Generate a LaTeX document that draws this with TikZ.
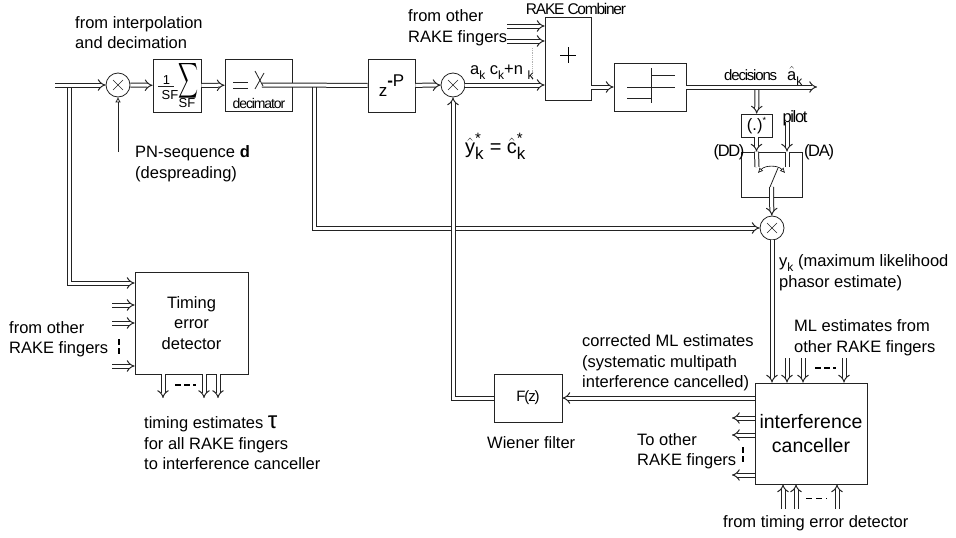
\documentclass[tikz,border=0pt]{standalone}
\usepackage{fontspec}
\setmainfont{Liberation Sans}
\newfontfamily\tightfont[LetterSpace=-8]{Liberation Sans}
\usepackage{xcolor}
\definecolor{wireblack}{RGB}{35, 35, 35}
\usetikzlibrary{arrows.meta, calc}
\newcommand{\subk}{\raisebox{-.32em}{\fontsize{12}{12}\selectfont k}}
\newcommand{\hatstar}[1]{$\hat{\mbox{#1}}^{\mbox{\fontsize{15}{15}\selectfont *}}_{\mbox{\fontsize{17}{17}\selectfont k}}$}
\tikzset{
  block/.style={draw=wireblack, line width=.8pt, inner sep=0pt, align=center, font=\fontsize{16.5}{20.5}\selectfont},
  mixer/.style={circle, draw=wireblack, line width=.8pt, minimum size=24pt, inner sep=0pt,
    path picture={
      \draw[line width=.5pt] ([shift={(-5pt,-5pt)}]path picture bounding box.center) -- ([shift={(5pt,5pt)}]path picture bounding box.center);
      \draw[line width=.5pt] ([shift={(-5pt,5pt)}]path picture bounding box.center) -- ([shift={(5pt,-5pt)}]path picture bounding box.center);
    }},
  dplain/.style={double, double distance=3pt, line width=1pt, draw=wireblack},
  dline/.style={dplain, -{Implies[length=7pt, width=12pt]}},
  single/.style={line width=.8pt, draw=wireblack},
  gapline/.style={line width=1.3pt, black, dash pattern=on 6pt off 3pt},
  txt/.style={inner sep=0pt, anchor=west, align=left, font=\fontsize{16.5}{20.5}\selectfont},
  tighttxt/.style={inner sep=0pt, font=\tightfont\fontsize{15}{17}\selectfont}
}
\begin{document}
\begin{tikzpicture}[x=1pt, y=-1pt]
  \useasboundingbox (0,0) rectangle (956,538);

  % forward path blocks
  \node[mixer] (mix1) at (118,85) {};
  \node[block, minimum width=48pt, minimum height=53pt] (sf) at (177,85.5) {};
  \node[block, minimum width=67pt, minimum height=52pt] (deci) at (258.5,85) {};
  \node[block, minimum width=47pt, minimum height=53pt, font=\fontsize{17}{20}\selectfont] (delay) at (391.5,85.5) {z\raisebox{.55em}{\textbf{-}P}};
  \node[mixer] (mix2) at (453,85) {};
  \node[block, minimum width=46pt, minimum height=83pt] (comb) at (568,58.5) {};
  \node[block, minimum width=72pt, minimum height=48pt] (slicer) at (650,87) {};

  % feedback and estimator blocks
  \node[block, minimum width=31pt, minimum height=23pt] (conj) at (756.5,125.5) {(.)\raisebox{.4em}{\fontsize{9}{9}\selectfont *}};
  \node[block, minimum width=61pt, minimum height=45pt] (sw) at (771.5,174.5) {};
  \node[mixer] (mix3) at (772,228) {};
  \node[block, minimum width=112pt, minimum height=101pt, font=\fontsize{19.5}{23.5}\selectfont] (canc) at (811,433.5) {interference\\canceller};
  \node[block, minimum width=68pt, minimum height=48pt, font=\tightfont\fontsize{15}{17}\selectfont] (fz) at (528,398) {F(z)};
  \node[block, minimum width=113pt, minimum height=102pt] (ted) at (191.5,323) {Timing\\error\\detector};

  % free ends
  \coordinate (input) at (55,85);
  \coordinate (tedtap) at (69.5,85);
  \coordinate (samp) at (262,85);
  \coordinate (esttap) at (314.5,85);
  \coordinate (pn) at (118,152);
  \coordinate (fing1) at (507,26);
  \coordinate (fing2) at (507,41);
  \coordinate (decout) at (817,87);
  \coordinate (dectap) at (757,87);
  \coordinate (pilot) at (787,122);
  \coordinate (swdd) at (757,167);
  \coordinate (swda) at (787,167);
  \coordinate (swout) at (771.5,187);

  % double connectors, branches first so that the main line stays on top
  \draw[dline] (tedtap) |- (ted.west |- 0,283);
  \draw[dline] (esttap) |- (mix3);
  \draw[dline] (input) -- (mix1);
  \draw[dline] (mix1) -- (sf);
  \draw[dline] (sf) -- (deci);
  \draw[dplain] (samp) -- (delay);
  \draw[dline] (delay) -- (mix2);
  \draw[dline] (mix2) -- (mix2 -| comb.west);
  \draw[dline] (fing1) -- (fing1 -| comb.west);
  \draw[dline] (fing2) -- (fing2 -| comb.west);
  \draw[dline] (slicer.west -| comb.east) -- (slicer.west);
  \draw[dline] (dectap) -- (conj);
  \draw[dline] (slicer) -- (decout);
  \draw[dline] (conj) -- (conj |- sw.north);
  \draw[dline] (pilot) -- (pilot |- sw.north);
  \draw[dplain] (conj |- sw.north) -- (swdd);
  \draw[dplain] (pilot |- sw.north) -- (swda);
  \draw[dline] (swout) -- (mix3);
  \draw[dline] (mix3) -- (mix3 |- canc.north);
  \draw[dline] (canc.west |- fz) -- (fz);
  \draw[dline] (fz) -| (mix2);

  % pn input
  \draw[single, -{Triangle[open, length=5pt, width=5pt]}] (pn) -- (mix1);

  % timing detector ports
  \foreach \y in {305,323,366} {
    \coordinate (tedin\y) at (112,\y);
    \draw[dline] (tedin\y) -- (tedin\y -| ted.west);
  }
  \foreach \x in {163,204,218} {
    \coordinate (tedout\x) at (\x,398);
    \draw[dline] (tedout\x |- ted.south) -- (tedout\x);
  }
  \draw[gapline] (119,339) -- (119,356);
  \draw[gapline] (175,385) -- (196,385);

  % canceller ports
  \foreach \x in {787,803,844} {
    \coordinate (mlin\x) at (\x,358);
    \draw[dline] (mlin\x) -- (mlin\x |- canc.north);
  }
  \foreach \y in {418,435,475} {
    \coordinate (cancout\y) at (732,\y);
    \draw[dline] (cancout\y -| canc.west) -- (cancout\y);
  }
  \foreach \x in {783,796,837} {
    \coordinate (cancin\x) at (\x,509);
    \draw[dline] (cancin\x) -- (cancin\x |- canc.south);
  }
  \draw[gapline] (815,368) -- (836,368);
  \draw[gapline] (743,447) -- (743,464);
  \draw[line width=.9pt, black, dash pattern=on 6pt off 4pt] (806,498) -- (827,498);

  % block insides
  \draw[single] (158,86) -- (174,86);
  \node[inner sep=0pt, font=\fontsize{13}{13}\selectfont] (one) at (166.5,80) {1};
  \node[inner sep=0pt, font=\fontsize{13}{13}\selectfont] (sfa) at (170,95) {SF};
  \node[inner sep=0pt, font=\fontsize{13}{13}\selectfont] (sfb) at (187,103) {SF};
  \node[inner sep=0pt] (sumsign) at (188,81) {\resizebox{20pt}{26pt}{$\displaystyle\sum$}};
  \draw[single] (233,82) -- (248,82);
  \draw[single] (233,88) -- (248,88);
  \draw[single] (255,89) -- (264,73);
  \draw[single] (255,71) -- (263,86);
  \node[tighttxt, font=\tightfont\fontsize{14}{16}\selectfont] (decilabel) at (259,103) {decimator};
  \draw[line width=.5pt] (560,55) -- (576,55);
  \draw[line width=.5pt] (568,47) -- (568,63);
  \draw[single] (651,68) -- (651,103);
  \draw[single] (651,75) -- (675,75);
  \draw[single] (627,87) -- (675,87);
  \draw[single] (627,98) -- (651,98);
  \draw[line width=.8pt, gray!60, densely dotted] (532,48) -- (532,80);
  \draw[single] (770,187) -- (778,168);
  \draw[line width=.6pt, {Latex[open, length=5pt, width=5pt]}-{Latex[open, length=5pt, width=5pt]}] (758,173) .. controls (765,165) and (778,165) .. (785,173);

  % labels
  \node[txt] (interp) at (75,32.5) {from interpolation\\and decimation};
  \node[txt] (pnlabel) at (135,163.5) {PN-sequence \textbf{d}\\(despreading)};
  \node[txt] (otherfing) at (408,27.5) {from other\\RAKE fingers};
  \node[tighttxt, font=\tightfont\fontsize{15.5}{18}\selectfont] (combtitle) at (576,9) {RAKE Combiner};
  \node[txt] (aklabel) at (470,72) {a\subk\ c\subk+n \subk};
  \node[txt, font=\fontsize{20}{22}\selectfont] (yklabel) at (465,146) {\hatstar{y} = \hatstar{c}};
  \node[tighttxt, anchor=west] (decisions) at (724,75) {decisions};
  \node[txt] (akhat) at (787,76) {$\hat{\mbox{a}}$\subk};
  \node[tighttxt, font=\tightfont\fontsize{16.5}{18}\selectfont] (pilotlabel) at (795,118) {pilot};
  \node[tighttxt, font=\tightfont\fontsize{16.5}{18}\selectfont] (ddlabel) at (729,152) {(DD)};
  \node[tighttxt, font=\tightfont\fontsize{16.5}{18}\selectfont] (dalabel) at (819,152) {(DA)};
  \node[txt] (ylabel) at (779,272.5) {y\subk{} (maximum likelihood\\phasor estimate)};
  \node[txt] (mlother) at (794,337.5) {ML estimates from\\other RAKE fingers};
  \node[txt] (corrected) at (582,363) {corrected ML estimates\\(systematic multipath\\interference cancelled)};
  \node[txt] (wiener) at (487,443) {Wiener filter};
  \node[txt] (toother) at (637,451) {To other\\RAKE fingers};
  \node[txt] (fromted) at (723,523) {from timing error detector};
  \node[txt] (tedother) at (9,339) {from other\\RAKE fingers};
  \node[txt] (timingest) at (144,443) {timing estimates {\fontsize{24}{20.5}\selectfont τ}\\for all RAKE fingers\\to interference canceller};
\end{tikzpicture}
\end{document}
